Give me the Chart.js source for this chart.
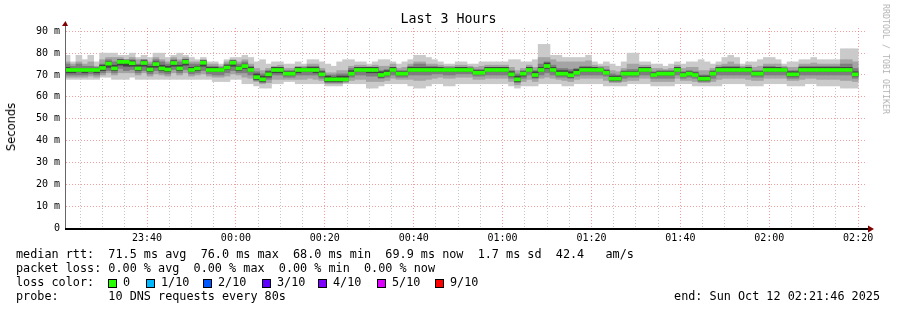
<!DOCTYPE html>
<html><head><meta charset="utf-8">
<script src="https://cdn.jsdelivr.net/npm/chart.js@4.4.0/dist/chart.umd.min.js"></script>
<style>
html,body{margin:0;padding:0;background:#fff;}
#wrap{position:relative;width:897px;height:310px;overflow:hidden;background:#fff;}
#c{position:absolute;left:0;top:0;}
.mono{position:absolute;font-family:"DejaVu Sans Mono",monospace;color:#000;white-space:pre;}
.leg{font-size:11.8px;line-height:14px;}
#title{left:0;width:897px;text-align:center;top:11px;font-size:13.3px;line-height:16px;}
#ylab{position:absolute;font-family:"DejaVu Sans",sans-serif;font-size:11.5px;font-weight:normal;left:11px;top:127px;transform:translate(-50%,-50%) rotate(-90deg);white-space:nowrap;color:#000;}
#credit{position:absolute;font-family:"DejaVu Sans Mono",monospace;font-size:8.3px;color:#b4b4b4;left:886px;top:59px;transform:translate(-50%,-50%) rotate(90deg);white-space:nowrap;}
.sw{position:absolute;width:7px;height:7px;border:1px solid #000;top:279px;}
</style></head>
<body><div id="wrap">
<canvas id="c" width="897" height="310"></canvas>
<div id="title" class="mono">Last 3 Hours</div>
<div id="ylab">Seconds</div>
<div id="credit">RRDTOOL / TOBI OETIKER</div>
<div class="mono leg" style="left:16px;top:247px">median rtt:  71.5 ms avg  76.0 ms max  68.0 ms min  69.9 ms now  1.7 ms sd  42.4   am/s</div>
<div class="mono leg" style="left:16px;top:261px">packet loss: 0.00 % avg  0.00 % max  0.00 % min  0.00 % now</div>
<div class="mono leg" style="left:16px;top:275px">loss color:</div>
<div id="lossrow"></div>
<div class="mono leg" style="left:16px;top:289px">probe:       10 DNS requests every 80s</div>
<div class="mono leg" style="right:17px;top:289px">end: Sun Oct 12 02:21:46 2025</div>
</div>
<script>
// ---- data (ms) ----
const SAMPLE_SECONDS = 80;
const LAST_SAMPLE_END_MIN = 140;            // 02:20 (minutes after midnight)
const X_START_MIN = -(38 + 14/60);          // 23:21:46
const X_END_MIN = 141 + 46/60;              // 02:21:46
const tickLabels = ['23:40','00:00','00:20','00:40','01:00','01:20','01:40','02:00','02:20'];
const yTickLabels = ['0','10 m','20 m','30 m','40 m','50 m','60 m','70 m','80 m','90 m'];
const lossLabels = ['0','1/10','2/10','3/10','4/10','5/10','9/10'];
const lossColors = ['#26ff00','#00b8ff','#0059ff','#5e00ff','#7e00ff','#dd00ff','#ff0000'];
const lossX = [108,146,203,262,318,377,435];

const median = [72.3,72.3,72.3,72.3,72.3,72.3,73.2,75.2,73,76,76,75.4,73,75.5,72.5,75,73,72.5,75.5,73,76,72.3,73,
75.6,72.3,72.3,72.3,73.4,75.6,73,74.1,72.3,69,68,70.3,72.3,72.3,70.6,70.6,72.3,72.3,72.3,72.3,70.3,68,68,
68,68,70.6,72.3,72.3,72.3,72.3,70,70.6,72.3,70.6,70.6,72.3,72.3,72.3,72.3,72.3,72.3,72.3,72.3,72.3,72.3,72.3,
71,71,72.3,72.3,72.3,72.3,70.3,68,70.6,72.3,70,72.3,74.1,72.3,70.6,70.6,69.9,71,72.3,72.3,72.3,72.3,71,
68.3,68.3,70.6,70.6,70.6,72.3,72.3,70,70.6,70.6,70.6,72.3,70,70.6,70,68.3,68.3,70.6,72.3,72.3,72.3,72.3,
72.3,72.3,70.6,70.6,72.3,72.3,72.3,72.3,70.3,70.3,72.3,72.3,72.3,72.3,72.3,72.3,72.3,72.3,72.3,70.3];
// ping 1 and ping 10 (min / max of the 10 pings)
const ping1 = [68,68,68,68,68,68,69,69,68,68,68,69,68,68,68,68,68,68,68,68,68,68,68,
68,68,67,67,67,68,68,66,66,65,64,64,66,66,67,67,66,66,66,66,66,65,65,
65,66,66,66,66,64,64,65,66,66,66,66,65,64,64,65,66,66,65,65,66,66,66,
66,66,66,66,66,66,65,64,65,65,65,66,66,66,66,65,65,66,66,66,66,66,65,
65,65,65,66,66,66,66,65,65,65,65,66,66,66,65,65,65,65,65,66,66,66,
66,65,65,65,66,66,66,66,65,65,65,66,66,65,65,65,65,64,64,64];
const ping10 = [79,76,79,77,79,76,80,80,80,79,79,80,78,79,78,80,80,78,79,80,79,78,77,
78,76,76,75,77,78,78,79,78,76,77,75,76,76,75,75,76,75,77,77,76,75,74,
76,77,77,76,76,75,76,77,77,76,75,76,77,79,79,78,77,76,75,75,76,76,75,
75,76,76,76,76,76,77,77,76,76,77,84,84,79,79,78,78,78,78,79,76,75,76,
75,74,76,80,80,76,76,75,75,74,75,76,75,76,76,77,76,75,76,78,79,78,
75,76,76,77,78,78,77,75,76,76,77,77,78,77,77,77,77,82,82,82];
// ping 2 / ping 9
const ping2 = [69,69,69,69,69.5,69,70,71,70,71,71,71,70,71,69.5,70.5,70,69.5,71,70,71,69.5,70,
70.5,69.5,69,69,69.5,70.5,70,69,68.5,67,66,66.5,68,68,68,68,68,68,68.5,68,67.5,66,66,
66,66.5,67.5,68,68,67,67,67,67.5,68.5,68,68,68,67.5,67.5,68,68.5,69,68.5,68.5,69,69,69,
68,68,68.5,68.5,68.5,68.5,67,65.5,67,68,67,68.5,69,68.5,68,67.5,67,68,68.5,68.5,68.5,68.5,67.5,
66.5,66.5,67,67.5,67.5,68.5,68.5,67,67,67,67,68.5,67.5,67.5,67,66.5,66.5,67,68,68.5,68.5,68.5,
68.5,68,67.5,67.5,68.5,68.5,68.5,68.5,67.5,67.5,68,68.5,68.5,68,68,68,68,67.5,67.5,67];
const ping9 = [76,75,76,75,76,74,77,78,78,78,77,78,77,77,76,78,77,76,78,77,78,76,76,
77,75,75,74,76,77,76,77,75,73,72,73,74,74.5,73,73,74,74,75,75,73,71,71,
72,72,74,74.5,74.5,74,74.5,74,74,75,73,73.5,75,76,76,75,75,74.5,74,74,74.5,74.5,74,
73.5,74,74.5,74.5,74.5,74.5,73.5,72,73,74.5,73.5,78,78,77,76,76,76,76,76,76.5,74.5,74,74,
72,71.5,73,75,75,74.5,74.5,73,73,72.5,73,74.5,73,73.5,73.5,72,72,73,74.5,75,76,75,
74,74.5,73.5,74,75,75,75,74,73.5,73.5,75,75,75.5,75,75,75,75,77,77,76];
// ping 3 / ping 8
const ping3 = [70,70,70,70,70.5,70,71,72,71,73,72,72.5,71,72,70.5,72,71,70.5,72.5,71,72.5,70.5,71,
72,70.5,70,70,71,72,71,71,70,67.5,66.5,68,70,70,69,69,70,70,70,70,68.5,66.5,66.5,
66.5,67,69,70,70,69.5,69.5,68.5,69,70,69,69,70,70,70,70,70.5,70.5,70,70,70.5,70.5,70.5,
69.5,69.5,70,70,70,70,68.5,66.5,68.5,70,68.5,70,71,70,69,69,68.5,69.5,70,70,70,70,69.5,
67,67,68.5,69,69,70,70,68.5,68.5,68.5,68.5,70,68.5,69,68.5,67,67,68.5,70,70,70,70,
70,70,69,69,70,70,70,70,68.5,68.5,70,70,70,70,70,70,70,70,70,68.5];
const ping8 = [75,74,75,74,74,73.5,75,77,76,77,77,77,75,77,75,77,76,75,77,76,77,75,75,
76.5,74,74,73.5,75,76.5,75,76,74,71.5,70.5,72,73.5,73.5,72,72,73.5,73.5,74,74,72,70,70,
70.5,70.5,73,73.5,73.5,73.5,73.5,72,72.5,73.5,72,72,74,75,75,74,74,73.5,73.5,73.5,73.5,73.5,73.5,
72.5,72.5,73.5,73.5,73.5,73.5,72,70.5,72,73.5,72,75,76,74.5,73,73,72.5,73,74,74,73.5,73.5,72.5,
70.5,70,72,72.5,72.5,73.5,73.5,71.5,72,72,72,73.5,71.5,72,71.5,70,70,72,73.5,74,74,74,
73.5,73.5,72,72,74,74,73.5,73.5,72,72,74,74,74,74,74,74,74,75,75,73];
// ping 4 / ping 7
const ping4 = [71,71,71.5,71,71.5,71,72,73.5,72,74.5,74,74,72,74,71.5,73.5,72,71.5,74,72,74.5,71.5,72,
74,71.5,71.5,71.5,72.5,74,72,73,71.5,68,67,69,71,71,70,70,71,71.5,71.5,71,69.5,67,67,
67,67.5,70,71.5,71.5,71,71,69,70,71.5,70,70,71.5,71.5,71.5,71.5,71.5,71.5,71.5,71.5,71.5,71.5,71.5,
70.5,70.5,71.5,71.5,71.5,71.5,69.5,67,69.5,71.5,69,71.5,73,71.5,70,70,69,70.5,71.5,71.5,71.5,71.5,70.5,
67.5,67.5,70,70,70,71.5,71.5,69.5,70,70,70,71.5,69.5,70,69.5,67.5,67.5,70,71.5,71.5,71.5,71.5,
71.5,71.5,70,70,71.5,71.5,71.5,71.5,69.5,69.5,71.5,71.5,71.5,71.5,71.5,71.5,71.5,71.5,71.5,69.5];
const ping7 = [73.5,73,73,73,73,73,74.5,76,74.5,77,76.5,76.5,74.5,76.5,74,76,74.5,74,76.5,74.5,77,73.5,74,
76.5,73.5,73.5,73,74.5,76.5,74,75,73.5,70.5,69.5,71.5,73.5,73.5,71.5,71.5,73.5,73,73.5,73.5,71.5,69.5,69,
69.5,69.5,72,73.5,73.5,73.5,73.5,71.5,72,73.5,71.5,71.5,73.5,73.5,73.5,73.5,73.5,73.5,73,73,73.5,73.5,73,
72,72,73.5,73.5,73.5,73.5,71.5,69.5,71.5,73.5,71.5,73.5,75.5,73.5,72,72,71.5,72.5,73.5,73.5,73.5,73,72,
69.5,69.5,71.5,71.5,71.5,73.5,73.5,71,71.5,71.5,71.5,73.5,71,71.5,71,69.5,69.5,71.5,73.5,73.5,73.5,73.5,
73,73.5,71.5,71.5,73.5,73.5,73.5,73,71.5,71.5,73.5,73.5,73.5,73.5,73.5,73.5,73.5,73.5,73.5,71.5];

// ---- chart ----
const n = median.length;
const xs = median.map((_, k) => LAST_SAMPLE_END_MIN - (n - k - 0.5) * SAMPLE_SECONDS / 60);
const band = (lo, hi) => lo.map((v, k) => ({x: xs[k], y: [v, hi[k]]}));
const MED_HALF = 0.7; // half thickness of the median mark (ms)
const medBand = median.map((m, k) => ({x: xs[k], y: [m - MED_HALF, m + MED_HALF]}));

const tickVals = []; for (let v = -35; v <= 140; v += 5) tickVals.push(v);
const isMajorX = v => ((v % 20) + 20) % 20 === 0;
const xLabel = v => isMajorX(v) ? tickLabels[(v + 20) / 20] : '';

const gridMinor = 'rgba(150,150,150,0.55)';
const gridMajor = 'rgba(235,80,80,0.55)';

const axesPlugin = {
  id: 'axes',
  afterDraw(chart) {
    const {ctx, chartArea: a} = chart;
    ctx.save();
    ctx.fillStyle = '#666'; ctx.fillRect(a.left - 1, a.top - 4, 1, a.bottom - a.top + 4);
    ctx.fillStyle = '#000'; ctx.fillRect(a.left - 1, a.bottom, a.right - a.left + 3, 2);
    ctx.fillStyle = '#7f0000';
    ctx.beginPath(); ctx.moveTo(a.left - 4, a.top - 2); ctx.lineTo(a.left + 2, a.top - 2); ctx.lineTo(a.left - 0.5, a.top - 7); ctx.closePath(); ctx.fill();
    ctx.beginPath(); ctx.moveTo(a.right + 2, a.bottom - 2.5); ctx.lineTo(a.right + 2, a.bottom + 4.5); ctx.lineTo(a.right + 8, a.bottom + 1); ctx.closePath(); ctx.fill();
    ctx.restore();
  }
};

new Chart(document.getElementById('c'), {
  type: 'bar',
  data: {
    datasets: [
      {data: medBand, backgroundColor: '#26ff00', order: 0},
      {data: band(ping4, ping7), backgroundColor: '#434343', order: 2},
      {data: band(ping3, ping8), backgroundColor: '#7e7e7e', order: 3},
      {data: band(ping2, ping9), backgroundColor: '#a4a4a4', order: 4},
      {data: band(ping1, ping10), backgroundColor: '#cacaca', order: 5}
    ]
  },
  options: {
    responsive: false, animation: false, events: [],
    datasets: {bar: {grouped: false, barPercentage: 1, categoryPercentage: 1, borderWidth: 0}},
    layout: {padding: {left: 0, right: 31, top: 28, bottom: 0}},
    plugins: {legend: {display: false}, tooltip: {enabled: false}},
    scales: {
      x: {
        type: 'linear', min: X_START_MIN, max: X_END_MIN, offset: false, z: 1,
        afterBuildTicks: s => { s.ticks = tickVals.map(v => ({value: v})); },
        afterFit: s => { s.height = 82; },
        ticks: {autoSkip: false, maxRotation: 0, padding: 4, color: '#000',
                font: {family: 'DejaVu Sans Mono', size: 10}, callback: v => xLabel(v)},
        grid: {offset: false, drawTicks: false, lineWidth: 1,
               color: c => (c.tick && isMajorX(c.tick.value)) ? gridMajor : gridMinor},
        border: {display: false, dash: [1, 2]}
      },
      y: {
        type: 'linear', min: 0, max: 91.5, z: 1,
        afterBuildTicks: s => { const t = []; for (let v = 0; v <= 90; v += 5) t.push({value: v}); s.ticks = t; },
        afterFit: s => { s.width = 66; },
        ticks: {padding: 6, color: '#000', font: {family: 'DejaVu Sans Mono', size: 10},
                callback: v => (v % 10 === 0) ? yTickLabels[v / 10] : ''},
        grid: {drawTicks: false, lineWidth: 1,
               color: c => (c.tick && c.tick.value === 0) ? 'rgba(0,0,0,0)' : ((c.tick && c.tick.value % 10 === 0) ? gridMajor : gridMinor)},
        border: {display: false, dash: [1, 2]}
      }
    }
  },
  plugins: [axesPlugin]
});

// loss colour swatches + labels
const row = document.getElementById('lossrow');
lossLabels.forEach((lab, i) => {
  const sw = document.createElement('div'); sw.className = 'sw';
  sw.style.left = lossX[i] + 'px'; sw.style.background = lossColors[i]; row.appendChild(sw);
  const t = document.createElement('div'); t.className = 'mono leg';
  t.style.left = (lossX[i] + 15) + 'px'; t.style.top = '275px'; t.textContent = lab; row.appendChild(t);
});
</script>
</body></html>
